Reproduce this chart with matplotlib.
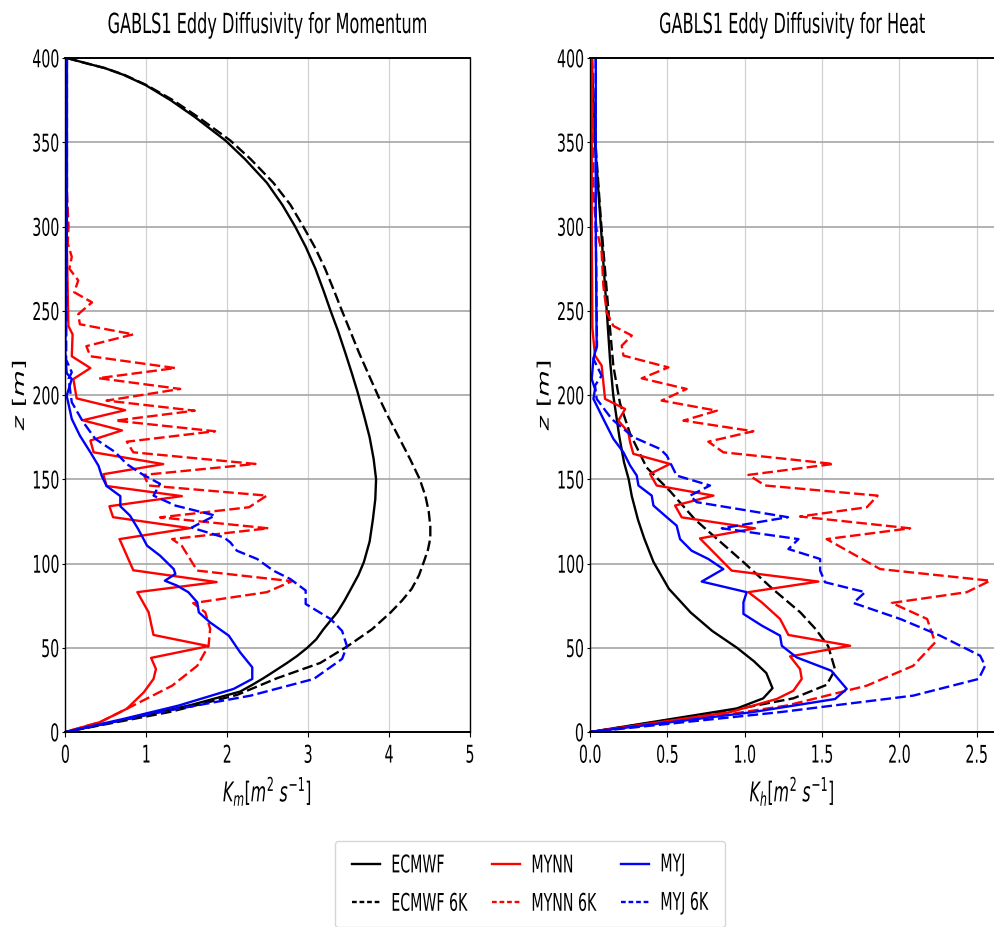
import matplotlib
matplotlib.use("Agg")
import matplotlib.pyplot as plt
from matplotlib.patheffects import AbstractPathEffect
from matplotlib.transforms import Affine2D

# ---------------------------------------------------------------- data
# heights [m] and eddy diffusivities [m^2 s^-1]
z_ticks = [0, 50, 100, 150, 200, 250, 300, 350, 400]
km_ticks = [0, 1, 2, 3, 4, 5]
kh_ticks = [0.0, 0.5, 1.0, 1.5, 2.0, 2.5]
series_labels = ["ECMWF", "ECMWF 6K", "MYNN", "MYNN 6K", "MYJ", "MYJ 6K"]

# momentum
ecmwf_km_z = [400, 397, 394, 390, 384, 375, 365, 351, 340, 326, 313, 300, 288, 275, 262, 251, 238, 225, 213, 202, 188, 175,
              162, 150, 138, 126, 113, 101, 93, 85, 78, 71, 61, 55, 50, 45, 41, 36, 32, 28, 24, 16, 8, 0]
ecmwf_km = [0.02, 0.25, 0.49, 0.72, 0.99, 1.30, 1.60, 1.98, 2.22, 2.49, 2.68, 2.84, 2.97, 3.09, 3.19, 3.27, 3.37, 3.46, 3.54, 3.61, 3.69, 3.76,
            3.81, 3.84, 3.83, 3.80, 3.76, 3.69, 3.62, 3.53, 3.45, 3.36, 3.19, 3.10, 2.99, 2.86, 2.74, 2.58, 2.45, 2.31, 2.16, 1.55, 0.80, 0.0]

ecmwf6k_km_z = [400, 397, 394, 390, 384, 375, 365, 351, 340, 326, 313, 300, 288, 275, 262, 251, 238, 225, 213, 199, 188, 175,
                162, 150, 140, 131, 122, 115, 108, 101, 93, 85, 78, 71, 61, 51, 41, 32, 22, 12, 0]
ecmwf6k_km = [0.02, 0.25, 0.49, 0.73, 1.00, 1.33, 1.64, 2.04, 2.29, 2.57, 2.78, 2.94, 3.08, 3.21, 3.32, 3.41, 3.52, 3.63, 3.74, 3.87, 3.98, 4.12,
              4.26, 4.38, 4.45, 4.49, 4.51, 4.51, 4.48, 4.43, 4.37, 4.28, 4.16, 4.02, 3.79, 3.49, 3.15, 2.62, 2.12, 1.30, 0.0]

mynn_km_z = [400, 300, 241, 236, 223, 216, 209.5, 198, 191, 185, 179, 173, 166, 159, 153, 146, 140, 134, 127.5, 121, 114.5,
             96, 89, 83, 71, 57.6, 51, 44, 37.4, 31.5, 23.6, 13.8, 5.9, 0]
mynn_km = [0.01, 0.015, 0.038, 0.09, 0.08, 0.31, 0.10, 0.14, 0.74, 0.215, 0.70, 0.31, 0.35, 1.21, 0.47, 0.51, 1.44, 0.545, 0.59, 1.54, 0.67,
           0.84, 1.87, 0.89, 1.03, 1.09, 1.77, 1.06, 1.12, 1.09, 0.97, 0.76, 0.43, 0.0]

mynn6k_km_z = [400, 320, 300, 290, 282, 275, 268, 261, 255, 248, 242, 236, 229, 223, 216, 210, 203.6, 196.7, 190.7, 184.8, 178.5,
               172.3, 166, 159.1, 152.6, 146.3, 140.3, 133.4, 127.4, 120.9, 114.5, 110.5, 95.8, 89.5, 83, 76.5, 71, 61.2, 51.2,
               39.3, 27.5, 13.8, 5.9, 0]
mynn6k_km = [0.01, 0.02, 0.04, 0.03, 0.08, 0.05, 0.16, 0.11, 0.33, 0.16, 0.18, 0.84, 0.26, 0.31, 1.36, 0.41, 1.42, 0.51, 1.60, 0.62, 1.85,
             0.76, 0.84, 2.35, 0.97, 1.03, 2.49, 2.27, 1.17, 2.51, 1.32, 1.44, 1.63, 2.80, 2.49, 1.58, 1.73, 1.79, 1.77,
             1.63, 1.32, 0.76, 0.43, 0.0]

myj_km_z = [400, 300, 225, 213, 209.5, 199.6, 185.8, 175.9, 166, 158, 152, 146, 140, 134, 128.4, 120.5, 110.6, 104.7, 96.7, 93.8,
            89.8, 86.9, 83, 77, 71, 65, 57.2, 47.3, 38.4, 31.5, 25.6, 15.7, 7.8, 0]
myj_km = [0.02, 0.02, 0.0, 0.017, 0.08, 0.017, 0.08, 0.18, 0.31, 0.41, 0.45, 0.51, 0.68, 0.68, 0.80, 0.90, 1.01, 1.17, 1.34, 1.36,
          1.23, 1.38, 1.52, 1.63, 1.65, 1.79, 2.02, 2.16, 2.31, 2.31, 2.08, 1.40, 0.72, 0.0]

myj6k_km_z = [400, 300, 221, 213.5, 209.6, 195.7, 184, 174, 166, 159, 153, 147.3, 140.3, 134.4, 128.5, 121.3, 115.5, 112.5, 107.6,
              102.7, 95.8, 90.8, 84, 76, 67, 60, 51, 43.4, 31.5, 21.6, 11.8, 0]
myj6k_km = [0.02, 0.02, 0.01, 0.08, 0.04, 0.08, 0.22, 0.37, 0.62, 0.76, 0.95, 1.17, 1.09, 1.36, 1.85, 1.56, 1.96, 2.04, 2.12,
            2.37, 2.57, 2.78, 2.97, 2.97, 3.28, 3.42, 3.48, 3.42, 3.07, 2.29, 1.17, 0.0]

# heat
ecmwf_kh_z = [400, 350, 300, 250, 220, 200, 175, 160, 150, 140, 126, 115, 101, 85, 71, 60, 50, 42, 35, 26, 20, 14, 0]
ecmwf_kh = [0.011, 0.032, 0.07, 0.108, 0.13, 0.15, 0.19, 0.22, 0.25, 0.27, 0.31, 0.35, 0.41, 0.51, 0.65, 0.79, 0.95, 1.06, 1.14, 1.18, 1.12, 0.95, 0.0]

ecmwf6k_kh_z = [400, 350, 304, 251, 217, 195, 177, 157, 143, 126, 101, 85, 71, 61, 51, 37, 28, 20, 12, 0]
ecmwf6k_kh = [0.011, 0.035, 0.07, 0.118, 0.151, 0.194, 0.259, 0.366, 0.517, 0.68, 0.99, 1.18, 1.36, 1.46, 1.54, 1.585, 1.53, 1.315, 0.86, 0.0]

mynn_kh_z = [400, 300, 240, 223.4, 217.5, 197.7, 191.7, 184.8, 177.9, 172, 165.1, 159.1, 153.2, 146.3, 140.3, 134.4, 127.4, 120.9,
             114.9, 95.8, 89.3, 83, 77, 67.1, 57.6, 51.2, 44.9, 37.4, 31.5, 24.5, 19.6, 11.8, 0]
mynn_kh = [0.011, 0.011, 0.015, 0.032, 0.075, 0.097, 0.227, 0.183, 0.248, 0.259, 0.28, 0.517, 0.388, 0.431, 0.798, 0.55, 0.593, 1.067,
           0.711, 0.916, 1.477, 1.024, 1.11, 1.229, 1.283, 1.682, 1.294, 1.358, 1.369, 1.315, 1.207, 0.905, 0.0]

mynn6k_kh_z = [400, 320, 300, 284.7, 265, 249, 241, 235.3, 229.3, 223.4, 216.4, 209.9, 203.6, 196.7, 190.7, 184.8, 178.5, 172.3,
               166, 159.1, 152.6, 146.3, 140.3, 133.4, 127.9, 120.9, 114.5, 96.7, 89.8, 83, 76.6, 67.1, 53.2, 39.3, 27.5,
               15.7, 7.8, 0]
mynn6k_kh = [0.015, 0.02, 0.04, 0.075, 0.086, 0.108, 0.151, 0.27, 0.205, 0.216, 0.507, 0.334, 0.625, 0.463, 0.82, 0.604, 1.056, 0.765,
             0.862, 1.574, 1.024, 1.132, 1.86, 1.79, 1.358, 2.07, 1.53, 1.876, 2.588, 2.437, 1.951, 2.18, 2.232, 2.09, 1.789,
             1.272, 0.70, 0.0]

myj_kh_z = [400, 300, 229.3, 221.4, 209.5, 203.6, 197.7, 185.8, 174, 166, 158.2, 152.2, 146.3, 140.3, 134.4, 127.5, 122.5, 114.5,
            107.6, 102.7, 96.7, 89.3, 83, 77, 70.1, 63.2, 57.2, 51.2, 44.3, 36.4, 25.6, 19.6, 11.8, 0]
myj_kh = [0.037, 0.037, 0.043, 0.022, 0.011, 0.032, 0.022, 0.086, 0.151, 0.216, 0.259, 0.302, 0.313, 0.399, 0.41, 0.496, 0.56, 0.582,
          0.657, 0.765, 0.862, 0.722, 1.013, 0.992, 0.992, 1.11, 1.229, 1.24, 1.336, 1.56, 1.66, 1.585, 1.05, 0.0]

myj6k_kh_z = [400, 300, 229, 221.4, 211.5, 205.6, 197.7, 185.8, 175, 168, 164.1, 152.2, 146.3, 140.3, 136.4, 127.5, 120.9, 114.5,
              108.6, 102.7, 95.8, 88.9, 83, 76.6, 67.1, 57.2, 45.3, 39.3, 31.5, 21.6, 11.8, 0]
myj6k_kh = [0.037, 0.037, 0.045, 0.022, 0.075, 0.032, 0.043, 0.140, 0.28, 0.453, 0.496, 0.56, 0.776, 0.647, 0.69, 1.28, 0.852, 1.348,
            1.283, 1.488, 1.488, 1.52, 1.779, 1.703, 2.006, 2.264, 2.523, 2.555, 2.513, 2.09, 1.229, 0.0]

# ---------------------------------------------------------------- style
TALL = 1.72            # vertical stretch of the narrow lettering
LW = 1.7
DASH = (0, (4.5, 1.8))
LEGEND_DASH = (0, (2.0, 1.2))

plt.rcParams["font.family"] = ["DejaVu Sans"]
plt.rcParams["mathtext.fontset"] = "dejavusans"


class Tall(AbstractPathEffect):
    """Fill a text path stretched vertically about its baseline, top or centre."""

    def __init__(self, factor=TALL, anchor="center"):
        super().__init__()
        self._factor = factor
        self._anchor = anchor

    def draw_path(self, renderer, gc, tpath, affine, rgbFace=None):
        ext = tpath.get_extents(affine)
        if self._anchor == "top":
            y0 = ext.y1
        elif self._anchor == "baseline":
            y0 = affine.transform([[0.0, 0.0]])[0][1]
        else:
            y0 = 0.5 * (ext.y0 + ext.y1)
        stretch = Affine2D().translate(0, -y0).scale(1.0, self._factor).translate(0, y0)
        renderer.draw_path(gc, tpath, affine + stretch, rgbFace)


fig = plt.figure(figsize=(9.94, 9.28), dpi=100)
ax1 = fig.add_axes([0.0657, 0.2101, 0.4071, 0.7263])
ax2 = fig.add_axes([0.5936, 0.2101, 0.4071, 0.7263])

# momentum panel
ax1.plot(ecmwf_km, ecmwf_km_z, color="black", lw=LW, label=series_labels[0])
ax1.plot(ecmwf6k_km, ecmwf6k_km_z, color="black", lw=LW, ls=DASH, label=series_labels[1])
ax1.plot(mynn_km, mynn_km_z, color="red", lw=LW, label=series_labels[2])
ax1.plot(mynn6k_km, mynn6k_km_z, color="red", lw=LW, ls=DASH, label=series_labels[3])
ax1.plot(myj_km, myj_km_z, color="blue", lw=LW, label=series_labels[4])
ax1.plot(myj6k_km, myj6k_km_z, color="blue", lw=LW, ls=DASH, label=series_labels[5])

# heat panel
ax2.plot(ecmwf_kh, ecmwf_kh_z, color="black", lw=LW)
ax2.plot(ecmwf6k_kh, ecmwf6k_kh_z, color="black", lw=LW, ls=DASH)
ax2.plot(mynn_kh, mynn_kh_z, color="red", lw=LW)
ax2.plot(mynn6k_kh, mynn6k_kh_z, color="red", lw=LW, ls=DASH)
ax2.plot(myj_kh, myj_kh_z, color="blue", lw=LW)
ax2.plot(myj6k_kh, myj6k_kh_z, color="blue", lw=LW, ls=DASH)


def style_axes(ax, xmax, xticks, title, xlabel):
    ax.set_xlim(0, xmax)
    ax.set_ylim(0, 400)
    ax.set_xticks(xticks)
    ax.set_yticks(z_ticks)
    ax.tick_params(axis="both", labelsize=10.2, direction="out")
    ax.tick_params(axis="y", length=2.0, pad=2.5)
    ax.tick_params(axis="x", length=3.5, pad=5.2)
    ax.xaxis.grid(True, color="#d2d2d2", lw=0.9)
    ax.yaxis.grid(True, color="#acacac", lw=1.3)
    for side in ("top", "bottom"):
        ax.spines[side].set_linewidth(1.4)
    for side in ("left", "right"):
        ax.spines[side].set_linewidth(1.0)
    ax.set_title(title, fontsize=11.6, pad=18, path_effects=[Tall(anchor="baseline")])
    ax.set_xlabel(xlabel, fontsize=11.4, labelpad=12, path_effects=[Tall(anchor="top")])
    ax.set_ylabel(r"$z\ [m]$", fontsize=11.4, path_effects=[Tall()])
    ax.yaxis.set_label_coords(-0.092, 0.5)
    for lab in ax.get_xticklabels():
        lab.set_path_effects([Tall(anchor="top")])
    for lab in ax.get_yticklabels():
        lab.set_path_effects([Tall()])


style_axes(ax1, 5.0, km_ticks, "GABLS1 Eddy Diffusivity for Momentum", r"$K_m [m^2\ s^{-1}]$")
style_axes(ax2, 2.617, kh_ticks, "GABLS1 Eddy Diffusivity for Heat", r"$K_h [m^2\ s^{-1}]$")

handles, labels = ax1.get_legend_handles_labels()
leg = fig.legend(handles, labels, loc="upper center", bbox_to_anchor=(0.533, 0.0927),
                 borderaxespad=0.0, ncol=3, fontsize=10.2, handlelength=2.0,
                 handletextpad=0.8, columnspacing=1.75, labelspacing=1.72, borderpad=1.18)
for t in leg.get_texts():
    t.set_path_effects([Tall()])
for line in leg.get_lines():
    if line.get_linestyle() != "-":
        line.set_linestyle(LEGEND_DASH)

fig.savefig("out.png", dpi=100)
